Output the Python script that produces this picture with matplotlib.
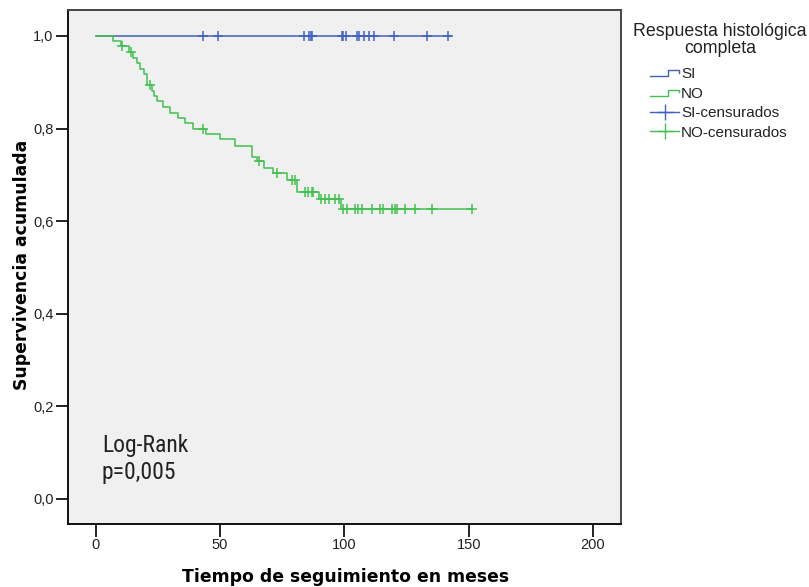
import matplotlib
matplotlib.use("Agg")
import matplotlib.pyplot as plt
from matplotlib import font_manager as fm
from matplotlib.lines import Line2D
from matplotlib.legend_handler import HandlerBase
import numpy as np

# Kaplan-Meier step functions (time in months, cumulative survival after each step)
si_steps_t = [0.0, 143.0]
si_steps_s = [1.0, 1.0]
si_censored_t = [43.0, 49.1, 83.9, 85.9, 86.6, 87.1, 98.9, 99.6, 100.5, 104.9,
                 105.8, 107.8, 109.8, 111.9, 119.9, 133.1, 141.5]

no_steps_t = [0.0, 6.8, 10.0, 13.5, 15.0, 16.5, 18.0, 19.5, 20.5, 22.5, 23.5, 24.8,
              26.9, 29.9, 33.0, 35.9, 39.2, 44.3, 50.0, 56.0, 63.0, 64.7, 67.8,
              71.2, 76.8, 81.0, 89.9, 98.5]
no_steps_s = [1.0, 0.990, 0.978, 0.965, 0.953, 0.941, 0.928, 0.917, 0.894, 0.882,
              0.871, 0.860, 0.847, 0.834, 0.822, 0.811, 0.800, 0.789, 0.777, 0.762,
              0.739, 0.729, 0.714, 0.703, 0.689, 0.663, 0.647, 0.626]
no_censored_t = [10.4, 14.0, 21.8, 43.3, 65.8, 72.8, 78.8, 80.1, 84.2, 85.5, 86.9,
                 87.5, 90.5, 92.2, 93.9, 96.2, 97.9, 99.5, 100.9, 104.3, 105.6,
                 107.0, 111.0, 114.4, 115.7, 119.0, 120.4, 121.1, 124.4, 128.4,
                 135.1, 151.2]

x_ticks = [0, 50, 100, 150, 200]
y_ticks = [0.0, 0.2, 0.4, 0.6, 0.8, 1.0]
y_ticklabels = ["0,0", "0,2", "0,4", "0,6", "0,8", "1,0"]

BLUE = "#4161BE"
GREEN = "#42C150"
FONT = "Liberation Sans"


def pick_condensed_family():
    names = {f.name for f in fm.fontManager.ttflist}
    for cand in ["Liberation Sans Narrow", "Roboto Condensed", "Open Sans Condensed",
                 "Noto Sans Condensed", "DejaVu Sans Condensed"]:
        if cand in names:
            return cand
    for f in fm.fontManager.ttflist:
        if "Condensed" in f.name or "Narrow" in f.name:
            return f.name
    return FONT


def step_value(ts, ss, t):
    idx = np.searchsorted(ts, t, side="right") - 1
    return ss[idx]


fig = plt.figure(figsize=(8.09, 5.87), dpi=100)
W, H = 809, 587
ax = fig.add_axes([67.5 / W, 1 - 524 / H, (621 - 67.5) / W, (524 - 10) / H])
ax.set_facecolor("#F0F0F0")

# SI curve
ax.step(si_steps_t, si_steps_s, where="post", color=BLUE, lw=1.1, zorder=3)
ax.plot(si_censored_t, [step_value(si_steps_t, si_steps_s, t) for t in si_censored_t],
        ls="none", marker="+", ms=7.5, mew=1.1, color=BLUE, zorder=4)

# NO curve (extends to last censored observation)
no_t = list(no_steps_t) + [no_censored_t[-1]]
no_s = list(no_steps_s) + [no_steps_s[-1]]
ax.step(no_t, no_s, where="post", color=GREEN, lw=1.1, zorder=3)
ax.plot(no_censored_t, [step_value(no_steps_t, no_steps_s, t) for t in no_censored_t],
        ls="none", marker="+", ms=7.5, mew=1.1, color=GREEN, zorder=4)

ax.set_xlim(-11.34, 211.26)
ax.set_ylim(-0.054, 1.056)
ax.set_xticks(x_ticks)
ax.set_xticklabels([str(v) for v in x_ticks], fontfamily=FONT, fontsize=10.5)
ax.set_yticks(y_ticks)
ax.set_yticklabels(y_ticklabels, fontfamily=FONT, fontsize=10.5)
ax.tick_params(axis="x", length=9, width=1.4, pad=1, color="#222222", labelcolor="#222222")
ax.tick_params(axis="y", length=9, width=1.4, pad=1, color="#222222", labelcolor="#222222")

for side in ["left", "bottom"]:
    ax.spines[side].set_color("#111111")
    ax.spines[side].set_linewidth(1.4)
for side in ["top", "right"]:
    ax.spines[side].set_color("#444444")
    ax.spines[side].set_linewidth(1.4)

ax.set_xlabel("Tiempo de seguimiento en meses", fontfamily="DejaVu Sans",
              fontweight="bold", fontsize=12.4, va="center")
ax.set_ylabel("Supervivencia acumulada", fontfamily="DejaVu Sans",
              fontweight="bold", fontsize=12.4, va="center")
ax.xaxis.set_label_coords((345.5 - 67.5) / 553.5, (524 - 577) / 514)
ax.yaxis.set_label_coords((22 - 67.5) / 553.5, (524 - 265) / 514)

ax.text(2.5, 0.033, "Log-Rank\np=0,005", fontfamily=[pick_condensed_family(), FONT],
        fontsize=17, color="#222222", linespacing=1.2, va="bottom", ha="left")


class StepHandler(HandlerBase):
    def __init__(self, color):
        super().__init__()
        self.color = color

    def create_artists(self, legend, orig_handle, xdescent, ydescent, width, height,
                       fontsize, trans):
        x0, x1 = -xdescent, -xdescent + width
        ylo, yhi = -ydescent + 0.15 * height, -ydescent + 0.75 * height
        xm = x0 + 0.6 * width
        xs = [x0, xm, xm, x1, x1]
        ys = [ylo, ylo, yhi, yhi, yhi - 0.25 * height]
        line = Line2D(xs, ys, color=self.color, lw=1.0, transform=trans)
        return [line]


# Legend title
fig.text(720 / W, 1 - 40 / H, "Respuesta histológica\ncompleta", fontfamily=FONT,
         fontsize=12.8, color="#222222", ha="center", va="center",
         multialignment="center", linespacing=1.0)

h_si = Line2D([], [], color=BLUE)
h_no = Line2D([], [], color=GREEN)
h_si_c = Line2D([], [], color=BLUE, marker="+", ms=11, mew=1.0, lw=1.0)
h_no_c = Line2D([], [], color=GREEN, marker="+", ms=11, mew=1.0, lw=1.0)

leg = fig.legend([h_si, h_no, h_si_c, h_no_c],
                 ["SI", "NO", "SI-censurados", "NO-censurados"],
                 handler_map={h_si: StepHandler(BLUE), h_no: StepHandler(GREEN)},
                 loc="upper center", bbox_to_anchor=(719 / W, 1 - 64 / H),
                 frameon=False, prop={"family": FONT, "size": 11},
                 handlelength=1.9, handletextpad=0.1, labelspacing=0.36,
                 borderpad=0.2, borderaxespad=0)
for t in leg.get_texts():
    t.set_color("#222222")

fig.savefig("out.png", dpi=100, facecolor="white")
